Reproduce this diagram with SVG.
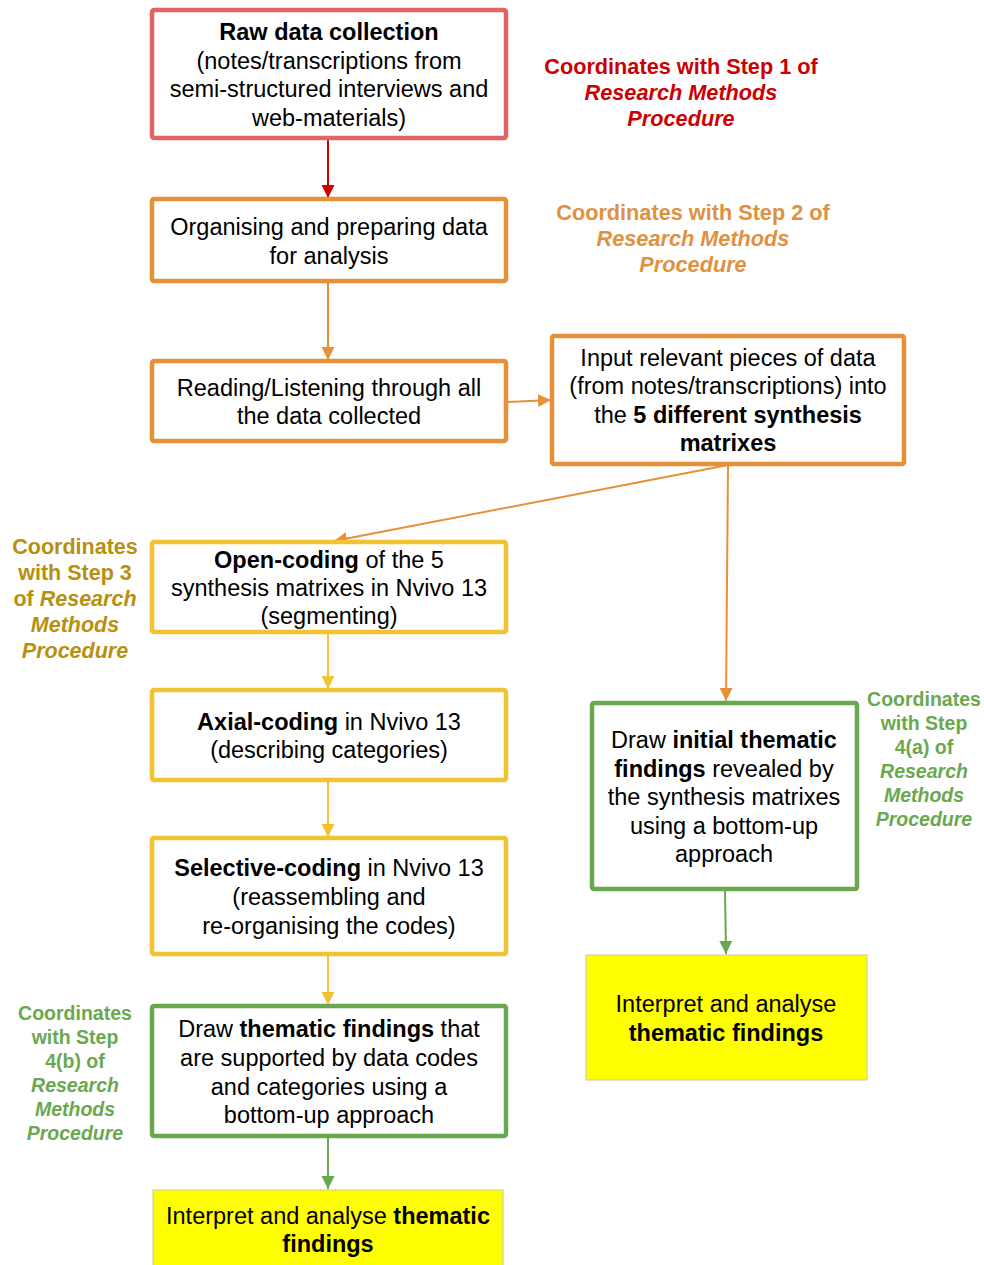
<svg xmlns="http://www.w3.org/2000/svg" width="984" height="1265" viewBox="0 0 984 1265">
  <defs>
    <style>
      .box { fill: #ffffff; stroke-width: 4.5; }
      .red { stroke: #e06666; }
      .orange { stroke: #e69138; }
      .yellow { stroke: #f1c232; }
      .green { stroke: #6aa84f; }
      .hl { fill: #ffff00; stroke: #c8c8a0; stroke-width: 1; }
      .t { font-family: "Liberation Sans", Arial, sans-serif; font-size: 23.5px; fill: #000000; text-anchor: middle; }
      .b { font-weight: bold; }
      .lab { font-family: "Liberation Sans", Arial, sans-serif; font-weight: bold; text-anchor: middle; }
      .i { font-style: italic; }
      .c { fill: none; stroke-width: 2; }
    </style>
    <marker id="ah-red" markerUnits="userSpaceOnUse" markerWidth="14" markerHeight="14" refX="13" refY="6.5" orient="auto">
      <path d="M0,0 L13,6.5 L0,13 Z" fill="#cc0000"/>
    </marker>
    <marker id="ah-orange" markerUnits="userSpaceOnUse" markerWidth="14" markerHeight="14" refX="13" refY="6.5" orient="auto">
      <path d="M0,0 L13,6.5 L0,13 Z" fill="#e69138"/>
    </marker>
    <marker id="ah-yellow" markerUnits="userSpaceOnUse" markerWidth="14" markerHeight="14" refX="13" refY="6.5" orient="auto">
      <path d="M0,0 L13,6.5 L0,13 Z" fill="#f1c232"/>
    </marker>
    <marker id="ah-green" markerUnits="userSpaceOnUse" markerWidth="14" markerHeight="14" refX="13" refY="6.5" orient="auto">
      <path d="M0,0 L13,6.5 L0,13 Z" fill="#6aa84f"/>
    </marker>
  </defs>

  <rect width="984" height="1265" fill="#ffffff"/>

  <!-- connectors -->
  <g id="connectors">
    <line class="c" x1="328" y1="140" x2="328" y2="198" stroke="#cc0000" marker-end="url(#ah-red)"/>
    <line class="c" x1="328" y1="283" x2="328" y2="360" stroke="#e69138" marker-end="url(#ah-orange)"/>
    <line class="c" x1="507" y1="402" x2="551" y2="400" stroke="#e69138" marker-end="url(#ah-orange)"/>
    <line class="c" x1="728" y1="465" x2="334" y2="541" stroke="#e69138" marker-end="url(#ah-orange)"/>
    <line class="c" x1="728" y1="465" x2="726" y2="701" stroke="#e69138" marker-end="url(#ah-orange)"/>
    <line class="c" x1="328" y1="634" x2="328" y2="689" stroke="#f1c232" marker-end="url(#ah-yellow)"/>
    <line class="c" x1="328" y1="782" x2="328" y2="837" stroke="#f1c232" marker-end="url(#ah-yellow)"/>
    <line class="c" x1="328" y1="956" x2="328" y2="1005" stroke="#f1c232" marker-end="url(#ah-yellow)"/>
    <line class="c" x1="328" y1="1138" x2="328" y2="1189" stroke="#6aa84f" marker-end="url(#ah-green)"/>
    <line class="c" x1="725" y1="891" x2="726" y2="954" stroke="#6aa84f" marker-end="url(#ah-green)"/>
  </g>

  <!-- step 1 -->
  <g id="raw-data">
    <rect class="box red" x="152" y="10" width="354" height="128" rx="2"/>
    <text class="t" x="329" y="40"><tspan class="b">Raw data collection</tspan></text>
    <text class="t" x="329" y="69">(notes/transcriptions from</text>
    <text class="t" x="329" y="97">semi-structured interviews and</text>
    <text class="t" x="329" y="126">web-materials)</text>
  </g>

  <g id="organising">
    <rect class="box orange" x="152" y="199" width="354" height="82" rx="2"/>
    <text class="t" x="329" y="235">Organising and preparing data</text>
    <text class="t" x="329" y="264">for analysis</text>
  </g>

  <g id="reading">
    <rect class="box orange" x="152" y="361" width="354" height="80" rx="2"/>
    <text class="t" x="329" y="396">Reading/Listening through all</text>
    <text class="t" x="329" y="424">the data collected</text>
  </g>

  <g id="input-matrixes">
    <rect class="box orange" x="552" y="336" width="352" height="128" rx="2"/>
    <text class="t" x="728" y="366">Input relevant pieces of data</text>
    <text class="t" x="728" y="394">(from notes/transcriptions) into</text>
    <text class="t" x="728" y="423">the <tspan class="b">5 different synthesis</tspan></text>
    <text class="t" x="728" y="451"><tspan class="b">matrixes</tspan></text>
  </g>

  <g id="open-coding">
    <rect class="box yellow" x="152" y="542" width="354" height="90" rx="2"/>
    <text class="t" x="329" y="568"><tspan class="b">Open-coding</tspan> of the 5</text>
    <text class="t" x="329" y="596">synthesis matrixes in Nvivo 13</text>
    <text class="t" x="329" y="624">(segmenting)</text>
  </g>

  <g id="axial-coding">
    <rect class="box yellow" x="152" y="690" width="354" height="90" rx="2"/>
    <text class="t" x="329" y="730"><tspan class="b">Axial-coding</tspan> in Nvivo 13</text>
    <text class="t" x="329" y="758">(describing categories)</text>
  </g>

  <g id="selective-coding">
    <rect class="box yellow" x="152" y="838" width="354" height="116" rx="2"/>
    <text class="t" x="329" y="876"><tspan class="b">Selective-coding</tspan> in Nvivo 13</text>
    <text class="t" x="329" y="905">(reassembling and</text>
    <text class="t" x="329" y="934">re-organising the codes)</text>
  </g>

  <g id="thematic-findings">
    <rect class="box green" x="152" y="1006" width="354" height="130" rx="2"/>
    <text class="t" x="329" y="1037">Draw <tspan class="b">thematic findings</tspan> that</text>
    <text class="t" x="329" y="1066">are supported by data codes</text>
    <text class="t" x="329" y="1095">and categories using a</text>
    <text class="t" x="329" y="1123">bottom-up approach</text>
  </g>

  <g id="interpret-left">
    <rect class="hl" x="153" y="1190" width="350" height="80"/>
    <text class="t" x="328" y="1224">Interpret and analyse <tspan class="b">thematic</tspan></text>
    <text class="t" x="328" y="1252"><tspan class="b">findings</tspan></text>
  </g>

  <g id="initial-findings">
    <rect class="box green" x="592" y="703" width="265" height="186" rx="2"/>
    <text class="t" x="724" y="748">Draw <tspan class="b">initial thematic</tspan></text>
    <text class="t" x="724" y="777"><tspan class="b">findings</tspan> revealed by</text>
    <text class="t" x="724" y="805">the synthesis matrixes</text>
    <text class="t" x="724" y="834">using a bottom-up</text>
    <text class="t" x="724" y="862">approach</text>
  </g>

  <g id="interpret-right">
    <rect class="hl" x="586" y="955" width="281" height="125"/>
    <text class="t" x="726" y="1012">Interpret and analyse</text>
    <text class="t" x="726" y="1041"><tspan class="b">thematic findings</tspan></text>
  </g>

  <!-- step annotations -->
  <g id="step1-note" class="lab" font-size="21.7" fill="#cc0000">
    <text x="681" y="74">Coordinates with Step 1 of</text>
    <text x="681" y="100" class="i">Research Methods</text>
    <text x="681" y="126" class="i">Procedure</text>
  </g>

  <g id="step2-note" class="lab" font-size="21.7" fill="#e0913f">
    <text x="693" y="220">Coordinates with Step 2 of</text>
    <text x="693" y="246" class="i">Research Methods</text>
    <text x="693" y="272" class="i">Procedure</text>
  </g>

  <g id="step3-note" class="lab" font-size="21.5" fill="#b8900f">
    <text x="75" y="554">Coordinates</text>
    <text x="75" y="580">with Step 3</text>
    <text x="75" y="606">of <tspan class="i">Research</tspan></text>
    <text x="75" y="632" class="i">Methods</text>
    <text x="75" y="658" class="i">Procedure</text>
  </g>

  <g id="step4a-note" class="lab" font-size="19.5" fill="#6aa84f">
    <text x="924" y="706">Coordinates</text>
    <text x="924" y="730">with Step</text>
    <text x="924" y="754">4(a) of</text>
    <text x="924" y="778" class="i">Research</text>
    <text x="924" y="802" class="i">Methods</text>
    <text x="924" y="826" class="i">Procedure</text>
  </g>

  <g id="step4b-note" class="lab" font-size="19.5" fill="#6aa84f">
    <text x="75" y="1020">Coordinates</text>
    <text x="75" y="1044">with Step</text>
    <text x="75" y="1068">4(b) of</text>
    <text x="75" y="1092" class="i">Research</text>
    <text x="75" y="1116" class="i">Methods</text>
    <text x="75" y="1140" class="i">Procedure</text>
  </g>
</svg>
